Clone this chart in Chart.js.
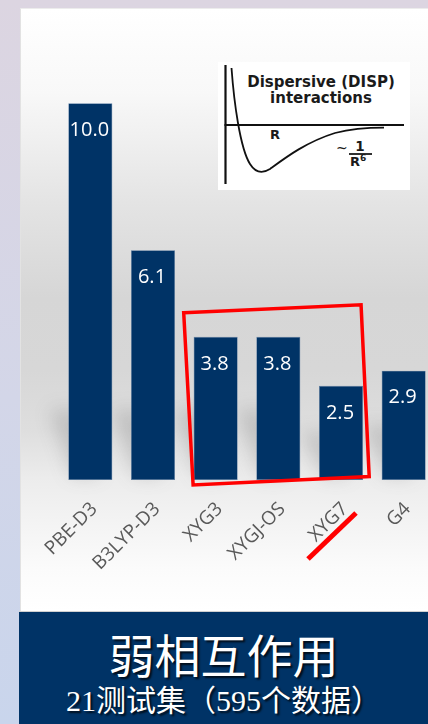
<!DOCTYPE html>
<html>
<head>
<meta charset="utf-8">
<script src="https://cdn.jsdelivr.net/npm/chart.js@4"></script>
<style>
  html, body { margin: 0; padding: 0; width: 428px; height: 724px; overflow: hidden; }
  body { position: relative; background: linear-gradient(to bottom, #dcd5e1 0%, #d3d6e8 55%, #c9d5ec 100%); font-family: "Open Sans", sans-serif; }
  #panel { position: absolute; left: 20px; top: 8px; width: 420px; height: 603px; box-sizing: border-box;
    border-left: 1px solid #e2e2e2; border-top: 1px solid #ececec;
    background: linear-gradient(to bottom, #ffffff 0%, #f8f8f8 14%, #e4e4e4 32%, #d6d6d6 48%, #d7d7d7 60%, #dedede 70%, #ececec 78%, #f2f2f2 84%, #fbfbfb 93%, #ffffff 100%); }
  #wrap { position: absolute; left: 20px; top: 8px; width: 420px; height: 600px; }
  #inset { position: absolute; left: 218px; top: 62px; width: 192px; height: 128px; }
  #banner { position: absolute; left: 19px; top: 611px; width: 420px; height: 113px; background: #003366; border-top: 1px solid #d0d0d0; box-sizing: border-box; }
  .btxt { position: absolute; left: 19px; width: 409px; text-align: center; color: #ffffff; white-space: nowrap;
    text-shadow: 2px 2px 2px rgba(0,0,0,0.75); }
  #t1 { top: 626px; font: 46px/54px "Noto Sans CJK SC", sans-serif; }
  #t2 { top: 683px; font: 30px/36px "Liberation Serif", "Noto Sans CJK SC", serif; }
</style>
</head>
<body>
<div id="panel"></div>
<div id="wrap"><canvas id="chart"></canvas></div>

<svg id="inset" viewBox="218 62 192 128" xmlns="http://www.w3.org/2000/svg">
  <rect x="218" y="62" width="192" height="128" fill="#ffffff"/>
  <line x1="225.5" y1="65" x2="225.5" y2="184" stroke="#111" stroke-width="2.2"/>
  <line x1="224.5" y1="125" x2="404" y2="125" stroke="#111" stroke-width="2.2"/>
  <path d="M231.5,68 C234,102 240,148 250,164 C255,172 262,174 270,169 C285,158 306,142 335,133 C352,128.6 368,127.6 384,127.6"
        fill="none" stroke="#111" stroke-width="1.8"/>
  <g font-family="DejaVu Sans, sans-serif" font-weight="bold" fill="#1a1a1a">
    <text x="321" y="87" font-size="15" text-anchor="middle">Dispersive (DISP)</text>
    <text x="321" y="103" font-size="15" text-anchor="middle">interactions</text>
    <text x="270" y="138.5" font-size="13">R</text>
    <text x="336" y="153" font-size="14" font-weight="normal">~</text>
    <text x="360" y="151" font-size="13.5" text-anchor="middle">1</text>
    <line x1="349" y1="154" x2="372" y2="154" stroke="#1a1a1a" stroke-width="1.8"/>
    <text x="350" y="166" font-size="13">R</text>
    <text x="360" y="161" font-size="9">6</text>
  </g>
</svg>

<div id="banner"></div>
<div class="btxt" id="t1">弱相互作用</div>
<div class="btxt" id="t2">21测试集（595个数据）</div>

<script>
// Error (kcal/mol) of each method on the weak-interaction test sets
const methods = ['PBE-D3', 'B3LYP-D3', 'XYG3', 'XYGJ-OS', 'XYG7', 'G4'];
const errors = [10.0, 6.1, 3.8, 3.8, 2.5, 2.9];
const valueTicks = [0, 12];

// Highlight box around the doubly-hybrid group, corners in (category index, value)
const highlightCorners = [[1.49, 4.44], [4.32, 4.65], [4.45, 0.09], [1.64, -0.13]];
const struckLabel = 'XYG7';

const BAR_BLUE = '#003366';

// Soft cast shadow behind each bar
const barShadow = {
  id: 'barShadow',
  beforeDatasetsDraw(chart) {
    const ctx = chart.ctx;
    const meta = chart.getDatasetMeta(0);
    ctx.save();
    ctx.filter = 'blur(9px)';
    ctx.fillStyle = 'rgba(70,70,70,0.2)';
    meta.data.forEach(bar => {
      const p = bar.getProps(['x', 'y', 'base', 'width'], true);
      const h = Math.min(70, (p.base - p.y) * 0.5);
      const l = p.x - p.width / 2, r = p.x + p.width / 2;
      ctx.beginPath();
      ctx.moveTo(l + 4, p.base - 4);
      ctx.lineTo(r - 12, p.base - 4);
      ctx.lineTo(r - 36, p.base - h);
      ctx.lineTo(l - 18, p.base - h);
      ctx.closePath();
      ctx.fill();
    });
    ctx.restore();
  }
};

// Value printed inside the top of each bar
const valueLabels = {
  id: 'valueLabels',
  afterDatasetsDraw(chart) {
    const ctx = chart.ctx;
    const meta = chart.getDatasetMeta(0);
    const data = chart.data.datasets[0].data;
    ctx.save();
    ctx.fillStyle = '#ffffff';
    ctx.font = '20px "Open Sans", sans-serif';
    ctx.textAlign = 'center';
    ctx.textBaseline = 'middle';
    meta.data.forEach((bar, i) => {
      const p = bar.getProps(['x', 'y'], true);
      ctx.fillText(data[i].toFixed(1), p.x - 1, p.y + 27);
    });
    ctx.restore();
  }
};

// Red frame and the strike through one category label
const redMarks = {
  id: 'redMarks',
  afterDraw(chart) {
    const ctx = chart.ctx;
    const xs = chart.scales.x, ys = chart.scales.y;
    ctx.save();
    ctx.strokeStyle = '#ff0000';
    ctx.lineJoin = 'miter';
    ctx.lineWidth = 3.5;
    ctx.beginPath();
    highlightCorners.forEach(([ix, v], k) => {
      const px = xs.getPixelForValue(ix), py = ys.getPixelForValue(v);
      if (k === 0) ctx.moveTo(px, py); else ctx.lineTo(px, py);
    });
    ctx.closePath();
    ctx.stroke();

    const i = chart.data.labels.indexOf(struckLabel);
    const tx = xs.getPixelForTick(i), by = chart.chartArea.bottom;
    ctx.lineWidth = 5;
    ctx.lineCap = 'butt';
    ctx.beginPath();
    ctx.moveTo(tx - 33, by + 79);
    ctx.lineTo(tx + 15, by + 33);
    ctx.stroke();
    ctx.restore();
  }
};

new Chart(document.getElementById('chart'), {
  type: 'bar',
  data: {
    labels: methods,
    datasets: [{
      data: errors,
      backgroundColor: BAR_BLUE,
      borderColor: '#5d7ea3',
      borderWidth: 0.6,
      borderSkipped: false,
      categoryPercentage: 1.0,
      barPercentage: 0.703
    }]
  },
  options: {
    responsive: true,
    maintainAspectRatio: false,
    animation: false,
    layout: { padding: { left: 39, right: 5, top: 20, bottom: 0 } },
    plugins: { legend: { display: false }, tooltip: { enabled: false } },
    scales: {
      x: {
        grid: { display: false, drawTicks: false },
        border: { display: false },
        ticks: {
          color: '#595959',
          font: { family: '"Open Sans", sans-serif', size: 19 },
          minRotation: 45,
          maxRotation: 45,
          padding: 18,
          labelOffset: 4,
          autoSkip: false
        },
        afterFit(scale) { scale.height = 128; }
      },
      y: {
        display: false,
        min: valueTicks[0],
        max: valueTicks[1]
      }
    }
  },
  plugins: [barShadow, valueLabels, redMarks]
});
</script>
</body>
</html>
